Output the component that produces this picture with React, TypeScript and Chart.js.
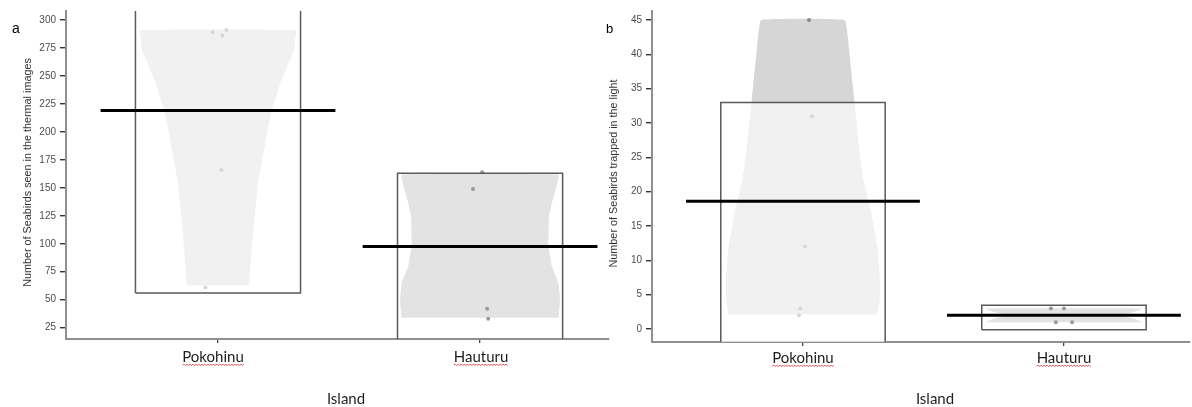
import React, { useEffect, useRef } from 'react';
import { Chart, registerables } from 'chart.js';

Chart.register(...registerables);

const W = 1192;
const H = 407;

const categories = ['Pokohinu', 'Hauturu'];
const xTitle = 'Island';

// ---------- panel a : thermal images ----------
const thermalYTitle = 'Number of Seabirds seen in the thermal images';
const thermalTicks = [25, 50, 75, 100, 125, 150, 175, 200, 225, 250, 275, 300];
const thermalPokohinu = [289, 291, 286, 166, 61];
const thermalPokohinuJitter = [-0.021, 0.032, 0.017, 0.013, -0.048];
const thermalHauturu = [164, 149, 42, 33];
const thermalHauturuJitter = [0.008, -0.027, 0.027, 0.031];
const thermalMeans = [219, 97.5];
const thermalBoxLow = [56, 0];
const thermalBoxHigh = [400, 163];
const thermalPokohinuViolinLevels = [63, 110, 155, 184, 199, 220, 229, 244, 258, 273, 282, 291];
const thermalPokohinuViolinWidths = [0.118, 0.134, 0.153, 0.176, 0.187, 0.206, 0.219, 0.239, 0.263, 0.29, 0.294, 0.298];
const thermalHauturuViolinLevels = [34, 50, 65, 80, 99, 124, 139, 154, 162];
const thermalHauturuViolinWidths = [0.3, 0.305, 0.299, 0.274, 0.261, 0.263, 0.277, 0.295, 0.299];

// ---------- panel b : light trapping ----------
const trappedYTitle = 'Number of Seabirds trapped in the light';
const trappedTicks = [0, 5, 10, 15, 20, 25, 30, 35, 40, 45];
const trappedPokohinu = [45, 31, 12, 3, 2];
const trappedPokohinuJitter = [0.023, 0.034, 0.008, -0.011, -0.015];
const trappedHauturu = [3, 3, 1, 1];
const trappedHauturuJitter = [-0.05, 0, -0.031, 0.031];
const trappedMeans = [18.6, 2];
const trappedBoxLow = [-5, -0.1];
const trappedBoxHigh = [33, 3.45];
const trappedPokohinuViolinLevels = [2.1, 4.2, 7.2, 12, 16.9, 21.7, 26.1, 30.9, 35.8, 40.6, 45];
const trappedPokohinuViolinWidths = [0.285, 0.294, 0.295, 0.285, 0.262, 0.232, 0.216, 0.203, 0.19, 0.177, 0.16];
const trappedHauturuViolinLevels = [1, 1.5, 2, 2.5, 3];
const trappedHauturuViolinWidths = [0.3, 0.27, 0.22, 0.27, 0.3];

const BOX_HW = 0.315;
const MEAN_HW = 0.448;

function violinPoly(center: number, levels: number[], widths: number[]) {
  const left = levels.map((y, i) => ({ x: center - widths[i], y }));
  const right = levels.map((y, i) => ({ x: center + widths[i], y })).reverse();
  return [...left, ...right];
}

function boxPoly(center: number, lo: number, hi: number) {
  return [
    { x: center - BOX_HW, y: lo },
    { x: center - BOX_HW, y: hi },
    { x: center + BOX_HW, y: hi },
    { x: center + BOX_HW, y: lo },
    { x: center - BOX_HW, y: lo },
  ];
}

function pts(center: number, vals: number[], jit: number[]) {
  return vals.map((v, i) => ({ x: center + jit[i], y: v }));
}

function meanLine(center: number, m: number) {
  return [
    { x: center - MEAN_HW, y: m },
    { x: center + MEAN_HW, y: m },
  ];
}

function buildDatasets(
  pVals: number[], pJit: number[], hVals: number[], hJit: number[],
  means: number[], lo: number[], hi: number[],
  pvL: number[], pvW: number[], hvL: number[], hvW: number[]
) {
  const shape = (data: any[], color: string, order: number) => ({
    data, fill: 'shape', backgroundColor: color, borderColor: 'rgba(0,0,0,0)', borderWidth: 0,
    pointRadius: 0, pointHoverRadius: 0, tension: 0.08, order,
  });
  const points = (data: any[], color: string, order: number) => ({
    data, showLine: false, pointRadius: 2, pointHoverRadius: 2, pointBorderWidth: 0,
    pointBackgroundColor: color, backgroundColor: color, borderColor: color, order,
  });
  return [
    shape(violinPoly(1, pvL, pvW), '#d6d6d6', 70),
    points(pts(1, pVals, pJit), '#8a8a8a', 65),
    {
      data: boxPoly(1, lo[0], hi[0]), fill: 'shape', backgroundColor: 'rgba(255,255,255,0.66)',
      borderColor: '#5a5a5a', borderWidth: 1.5, pointRadius: 0, pointHoverRadius: 0, tension: 0, order: 60,
    },
    shape(violinPoly(2, hvL, hvW), '#e3e3e3', 50),
    points(pts(2, hVals, hJit), '#999999', 45),
    {
      data: boxPoly(2, lo[1], hi[1]), fill: false, backgroundColor: 'rgba(0,0,0,0)',
      borderColor: '#5a5a5a', borderWidth: 1.5, pointRadius: 0, pointHoverRadius: 0, tension: 0, order: 40,
    },
    { data: meanLine(1, means[0]), borderColor: '#000', borderWidth: 3, pointRadius: 0, pointHoverRadius: 0, fill: false, order: 10 },
    { data: meanLine(2, means[1]), borderColor: '#000', borderWidth: 3, pointRadius: 0, pointHoverRadius: 0, fill: false, order: 10 },
  ];
}

function drawSquiggle(ctx: CanvasRenderingContext2D, x0: number, x1: number, y: number) {
  ctx.save();
  ctx.strokeStyle = '#e04848';
  ctx.lineWidth = 0.9;
  ctx.beginPath();
  ctx.moveTo(x0, y);
  let up = true;
  for (let x = x0 + 1.5; x <= x1; x += 1.5) {
    ctx.lineTo(x, up ? y - 1 : y + 0.6);
    up = !up;
  }
  ctx.stroke();
  ctx.restore();
}

interface TextSpec {
  letter: string; letterX: number; letterY: number; letterSize: number;
  title: string; titleX: number; titleY: number;
  labelY: number; labelShift: number[];
  islandX: number; islandY: number;
}

function makeTextPlugin(t: TextSpec) {
  return {
    id: 'panelText',
    afterDraw(chart: any) {
      const ctx: CanvasRenderingContext2D = chart.ctx;
      const xs = chart.scales.x;
      ctx.save();
      ctx.fillStyle = '#000';
      ctx.font = `${t.letterSize}px "Liberation Sans", Arial, sans-serif`;
      ctx.textAlign = 'left';
      ctx.textBaseline = 'alphabetic';
      ctx.fillText(t.letter, t.letterX, t.letterY);

      ctx.save();
      ctx.translate(t.titleX, t.titleY);
      ctx.rotate(-Math.PI / 2);
      ctx.font = '10.8px "Liberation Sans", Arial, sans-serif';
      ctx.fillStyle = '#333';
      ctx.textAlign = 'center';
      ctx.textBaseline = 'middle';
      ctx.fillText(t.title, 0, 0);
      ctx.restore();

      ctx.font = '15px Lato, "Open Sans", sans-serif';
      ctx.fillStyle = '#1e1e1e';
      ctx.textAlign = 'center';
      ctx.textBaseline = 'alphabetic';
      categories.forEach((c, i) => {
        const cx = xs.getPixelForValue(i + 1) + t.labelShift[i];
        ctx.fillText(c, cx, t.labelY);
        const w = ctx.measureText(c).width;
        drawSquiggle(ctx, cx - w / 2, cx + w / 2, t.labelY + 3);
      });
      ctx.fillText(xTitle, t.islandX, t.islandY);
      ctx.restore();
    },
  };
}

interface PanelSpec {
  xMin: number; xMax: number; yMin: number; yMax: number; yTicks: number[];
  padding: { left: number; right: number; top: number; bottom: number };
  yAxisWidth: number; xAxisHeight: number;
  datasets: any[]; text: TextSpec;
}

function makeConfig(p: PanelSpec): any {
  const axisBorder = { display: true, color: '#8f8f8f', width: 2 };
  return {
    type: 'line',
    data: { datasets: p.datasets },
    plugins: [makeTextPlugin(p.text)],
    options: {
      responsive: false,
      animation: false,
      devicePixelRatio: 1,
      events: [],
      layout: { autoPadding: false, padding: p.padding },
      plugins: { legend: { display: false }, tooltip: { enabled: false } },
      scales: {
        x: {
          type: 'linear', min: p.xMin, max: p.xMax,
          afterBuildTicks: (s: any) => { s.ticks = [1, 2].map((v) => ({ value: v })); },
          afterFit: (s: any) => { s.height = p.xAxisHeight; },
          ticks: { display: false },
          grid: { display: true, drawOnChartArea: false, drawTicks: true, tickLength: 4, color: '#444', lineWidth: 1.3 },
          border: axisBorder,
        },
        y: {
          type: 'linear', min: p.yMin, max: p.yMax,
          afterBuildTicks: (s: any) => { s.ticks = p.yTicks.map((v) => ({ value: v })); },
          afterFit: (s: any) => { s.width = p.yAxisWidth; },
          ticks: { font: { family: '"Liberation Sans", Arial, sans-serif', size: 10 }, color: '#4d4d4d', padding: 4 },
          grid: { display: true, drawOnChartArea: false, drawTicks: true, tickLength: 6, color: '#333', lineWidth: 1.4 },
          border: axisBorder,
        },
      },
    },
  };
}

export default function App() {
  const aRef = useRef<HTMLCanvasElement>(null);
  const bRef = useRef<HTMLCanvasElement>(null);

  useEffect(() => {
    const cfgA = makeConfig({
      xMin: 0.42, xMax: 2.492, yMin: 14.9, yMax: 308, yTicks: thermalTicks,
      padding: { left: 0, right: W - 609, top: 11, bottom: 0 },
      yAxisWidth: 66, xAxisHeight: H - 339,
      datasets: buildDatasets(
        thermalPokohinu, thermalPokohinuJitter, thermalHauturu, thermalHauturuJitter,
        thermalMeans, thermalBoxLow, thermalBoxHigh,
        thermalPokohinuViolinLevels, thermalPokohinuViolinWidths,
        thermalHauturuViolinLevels, thermalHauturuViolinWidths
      ),
      text: {
        letter: 'a', letterX: 12, letterY: 33, letterSize: 14,
        title: thermalYTitle, titleX: 28, titleY: 172.5,
        labelY: 362, labelShift: [-5, 1], islandX: 346, islandY: 404,
      },
    });
    const cfgB = makeConfig({
      xMin: 0.4215, xMax: 2.483, yMin: -1.89, yMax: 46.31, yTicks: trappedTicks,
      padding: { left: 652 - 60, right: W - 1190, top: 11, bottom: 0 },
      yAxisWidth: 60, xAxisHeight: H - 342,
      datasets: buildDatasets(
        trappedPokohinu, trappedPokohinuJitter, trappedHauturu, trappedHauturuJitter,
        trappedMeans, trappedBoxLow, trappedBoxHigh,
        trappedPokohinuViolinLevels, trappedPokohinuViolinWidths,
        trappedHauturuViolinLevels, trappedHauturuViolinWidths
      ),
      text: {
        letter: 'b', letterX: 606, letterY: 33, letterSize: 13,
        title: trappedYTitle, titleX: 614, titleY: 173.5,
        labelY: 363, labelShift: [0, 0], islandX: 935, islandY: 404,
      },
    });
    const ca = new Chart(aRef.current as HTMLCanvasElement, cfgA);
    const cb = new Chart(bRef.current as HTMLCanvasElement, cfgB);
    return () => {
      ca.destroy();
      cb.destroy();
    };
  }, []);

  const cs: React.CSSProperties = { position: 'absolute', left: 0, top: 0, width: W, height: H };
  return (
    <div style={{ position: 'absolute', left: 0, top: 0, width: W, height: H, background: '#fff', overflow: 'hidden' }}>
      <canvas ref={aRef} width={W} height={H} style={cs} />
      <canvas ref={bRef} width={W} height={H} style={cs} />
    </div>
  );
}
